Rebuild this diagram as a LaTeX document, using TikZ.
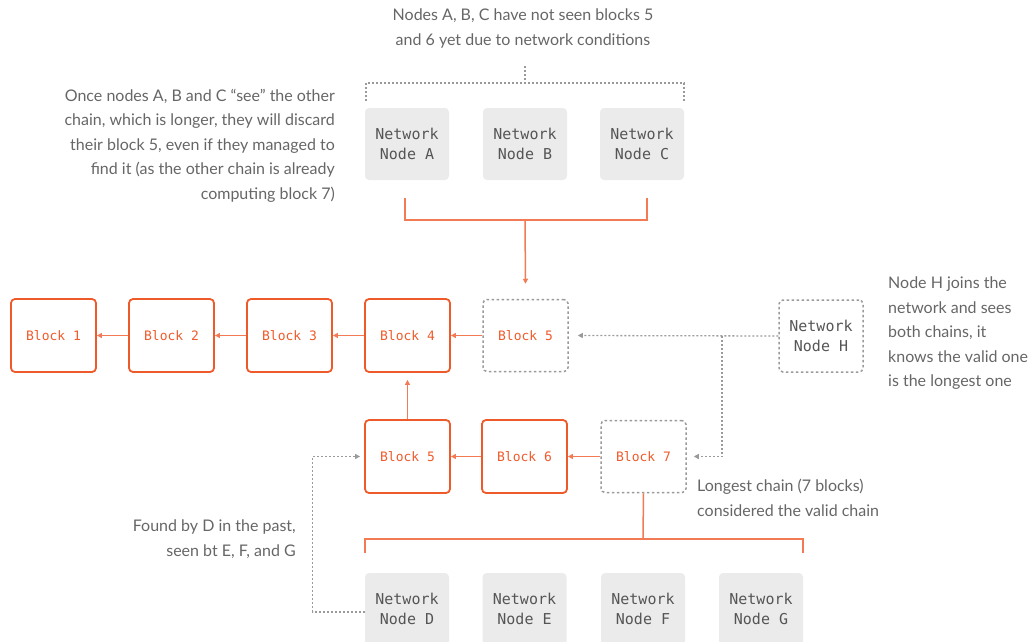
\documentclass[tikz,border=0pt]{standalone}
\usepackage{fontspec}
\setmainfont{Lato}
\setmonofont{DejaVu Sans Mono}
\usetikzlibrary{arrows.meta}
\definecolor{orng}{HTML}{EF5A2A}
\definecolor{orngline}{HTML}{F27A55}
\definecolor{gdash}{HTML}{9A9A9A}
\definecolor{nfill}{HTML}{EBEBEB}
\definecolor{ntext}{HTML}{555555}
\definecolor{ctext}{HTML}{666666}
\tikzset{
  block/.style={draw=orng, line width=1.8pt, rounded corners=4pt, minimum width=85pt, minimum height=73pt, text=orng, font=\ttfamily\fontsize{13}{16}\selectfont},
  pendblock/.style={draw=gdash, line width=1.5pt, dash pattern=on 2.5pt off 2.5pt, rounded corners=4pt, minimum width=85pt, minimum height=72pt, text=orng, font=\ttfamily\fontsize{13}{16}\selectfont},
  netnode/.style={fill=nfill, rounded corners=4pt, minimum width=84pt, minimum height=72pt, text=ntext, align=center, font=\ttfamily\fontsize{15}{20}\selectfont},
  pendnet/.style={draw=gdash, line width=1.5pt, dash pattern=on 2.5pt off 2.5pt, rounded corners=4pt, minimum width=84pt, minimum height=72pt, text=ntext, align=center, font=\ttfamily\fontsize{15}{20}\selectfont},
  oline/.style={draw=orngline, line width=1.5pt},
  oarr/.style={oline, -{Triangle[length=5pt,width=5pt]}},
  gline/.style={draw=gdash, line width=1.3pt, dash pattern=on 2pt off 2pt},
  garr/.style={gline, -{Triangle[length=5pt,width=5pt]}},
  note/.style={text=ctext, font=\fontsize{16}{24.5}\selectfont, inner sep=0pt}
}
\begin{document}
\begin{tikzpicture}[x=1pt,y=-1pt]
\useasboundingbox (0,0) rectangle (1029,641);
% top chain
\node[block] (b1) at (53.5,335.5) {Block 1};
\node[block] (b2) at (171.5,335.5) {Block 2};
\node[block] (b3) at (289.5,335.5) {Block 3};
\node[block] (b4) at (407.5,335.5) {Block 4};
\node[pendblock] (b5t) at (525.5,335.5) {Block 5};
\node[pendnet] (nH) at (821,336) {Network\\Node H};
% lower chain
\node[block] (b5l) at (407.5,456.5) {Block 5};
\node[block] (b6) at (524.5,456.5) {Block 6};
\node[pendblock] (b7) at (643.5,456.5) {Block 7};
% network nodes
\node[netnode] (nA) at (407,144) {Network\\Node A};
\node[netnode] (nB) at (525,144) {Network\\Node B};
\node[netnode] (nC) at (642,144) {Network\\Node C};
\node[netnode] (nD) at (407,609) {Network\\Node D};
\node[netnode] (nE) at (524.5,609) {Network\\Node E};
\node[netnode] (nF) at (643,609) {Network\\Node F};
\node[netnode] (nG) at (761,609) {Network\\Node G};
% chain arrows
\draw[oarr] (b2.west) -- (b1.east);
\draw[oarr] (b3.west) -- (b2.east);
\draw[oarr] (b4.west) -- (b3.east);
\draw[oarr] (b5t.west) -- (b4.east);
\draw[oarr] (b5l.north) -- ([yshift=-7pt]b4.south);
\draw[oarr] (b6.west) -- (b5l.east);
\draw[oarr] (b7.west) -- (b6.east);
% top gray bracket
\coordinate (tg) at (525,66);
\draw[gline] (366,101) -- (366,83) -- (684,83) -- (684,101);
\draw[gline] (tg) -- (525,83);
% top orange bracket
\coordinate (ob) at (525,220);
\draw[oline] (405,198) -- (405,220) -- (647,220) -- (647,198);
\draw[oarr] (ob) -- ([yshift=15pt]b5t.north);
% node H arrows
\coordinate (hj) at (722,336);
\draw[garr] (nH.west) -- ([xshift=9pt]b5t.east);
\draw[garr] (hj) |- ([xshift=7pt]b7.east);
% node D arrow
\draw[garr] ([yshift=-3pt]nD.west) -- ++(-52,0) |- ([xshift=-4pt]b5l.west);
% bottom orange bracket
\coordinate (bb) at (643,539);
\draw[oline] (b7.south) -- (bb);
\draw[oline] (365,553) -- (365,539) -- (803,539) -- (803,553);
% notes
\node[note, align=center, anchor=north] (t1) at (523,9) {Nodes A, B, C have not seen blocks 5\\and 6 yet due to network conditions};
\node[note, align=right, anchor=north east] (t2) at (335,89) {Once nodes A, B and C “see” the other\\chain, which is longer, they will discard\\their block 5, even if they managed to\\find it (as the other chain is already\\computing block 7)};
\node[note, align=left, anchor=north west] (t3) at (888,277) {Node H joins the\\network and sees\\both chains, it\\knows the valid one\\is the longest one};
\node[note, align=left, anchor=north west] (t4) at (697,479) {Longest chain (7 blocks)\\considered the valid chain};
\node[note, align=right, anchor=north east] (t5) at (296,520) {Found by D in the past,\\seen bt E, F, and G};
\end{tikzpicture}
\end{document}
